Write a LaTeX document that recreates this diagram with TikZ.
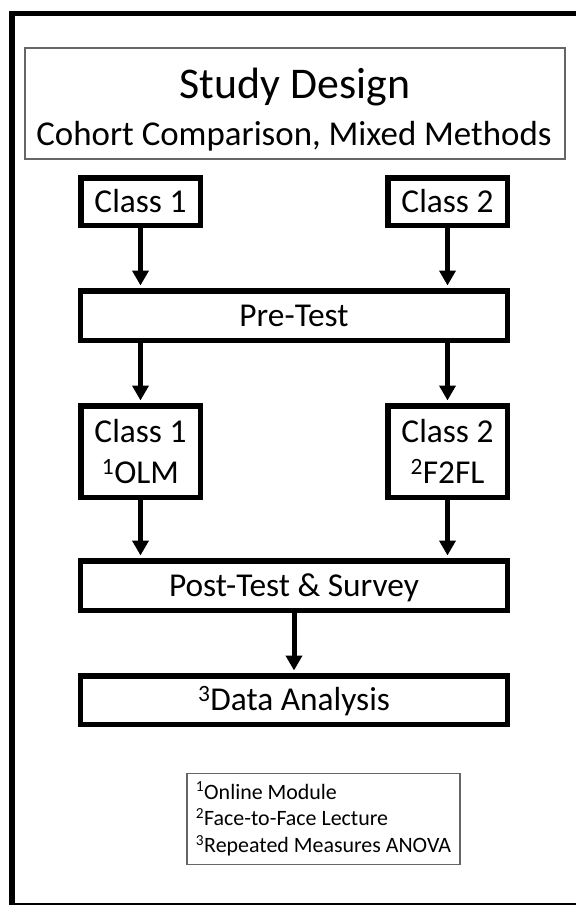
\documentclass[tikz,border=0pt]{standalone}
\usepackage{fontspec}
\setmainfont{Carlito}
\usetikzlibrary{arrows.meta}

\begin{document}
\begin{tikzpicture}[x=1bp,y=-1bp,
  stagebox/.style={draw,line width=5.5bp,inner sep=0pt,align=center,
    font=\fontsize{33.5}{41}\selectfont},
  oneline/.style={text height=21.5bp,text depth=0pt},
  flow/.style={line width=5bp,shorten >=2.5bp,-{Triangle[width=16bp,length=15bp]}},
  thinbox/.style={draw=black!60,line width=1.3bp,inner sep=0pt}]
\useasboundingbox (0,0) rectangle (576,905);
\fill[white] (0,0) rectangle (576,905);
\begin{scope}
\clip (0,0) rectangle (576,905);
\draw[line width=5.5bp] (12,13.5) rectangle (584,905.5);
\end{scope}

\node[thinbox,minimum width=540bp,minimum height=111bp] (head) at (295,103.5) {};
\node[anchor=base,font=\fontsize{44}{50}\selectfont] (ttl) at (295,98) {Study Design};
\node[anchor=base,font=\fontsize{35}{40}\selectfont] (sub) at (294,145) {Cohort Comparison, Mixed Methods};

\node[stagebox,oneline,minimum width=119.5bp,minimum height=47.5bp] (cls1a) at (140.5,201.5) {Class 1};
\node[stagebox,oneline,minimum width=119.5bp,minimum height=47.5bp] (cls2a) at (447.5,201.5) {Class 2};
\node[stagebox,oneline,minimum width=426.5bp,minimum height=49.5bp] (pre) at (294,315.5) {Pre-Test};
\node[stagebox,minimum width=119.5bp,minimum height=91.5bp] (cls1b) at (140.5,451.5) {Class 1\\\textsuperscript{1}OLM};
\node[stagebox,minimum width=119.5bp,minimum height=91.5bp] (cls2b) at (447.5,451.5) {Class 2\\\textsuperscript{2}F2FL};
\node[stagebox,oneline,minimum width=426.5bp,minimum height=49.5bp] (post) at (294,585.5) {Post-Test \& Survey};
\node[stagebox,oneline,minimum width=426.5bp,minimum height=48.5bp] (data) at (294,700) {\textsuperscript{3}Data Analysis};

\node[thinbox,inner xsep=9bp,minimum height=90.5bp,align=left,
  font=\fontsize{22}{27}\selectfont] (notes) at (323.5,819)
  {\textsuperscript{1}Online Module\\\textsuperscript{2}Face-to-Face Lecture\\\textsuperscript{3}Repeated Measures ANOVA};

\draw[flow] (cls1a.south) -- (cls1a.south |- pre.north);
\draw[flow] (cls2a.south) -- (cls2a.south |- pre.north);
\draw[flow] (cls1b.north |- pre.south) -- (cls1b.north);
\draw[flow] (cls2b.north |- pre.south) -- (cls2b.north);
\draw[flow] (cls1b.south) -- (cls1b.south |- post.north);
\draw[flow] (cls2b.south) -- (cls2b.south |- post.north);
\draw[flow] (post) -- (data);
\end{tikzpicture}
\end{document}
